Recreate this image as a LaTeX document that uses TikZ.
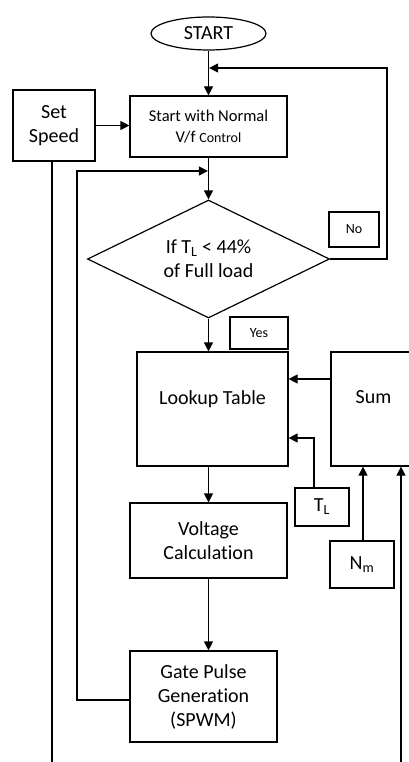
\documentclass[tikz,border=0pt]{standalone}
\usepackage{fontspec}
\setmainfont{Carlito}[RawFeature={-liga}]
\usetikzlibrary{shapes.geometric,arrows.meta}
\begin{document}
\begin{tikzpicture}[x=1pt,y=-1pt,
  box/.style={draw,line width=1.2pt,rectangle,inner sep=0pt,align=center,font=\fontsize{20}{24}\selectfont},
  small/.style={font=\fontsize{14}{17}\selectfont},
  conn/.style={line width=1.2pt},
  arr/.style={conn,-{Triangle[length=9pt,width=9pt]}},
]
\path[use as bounding box] (0,0) rectangle (409,762);
\clip (0,0) rectangle (409,762);
\fill[white] (0,0) rectangle (409,762);

\node[box,ellipse,minimum width=115pt,minimum height=33pt] (start) at (208.5,33.5) {START};
\node[box,font=\fontsize{16.5}{21}\selectfont,minimum width=157pt,minimum height=61pt] (vf) at (208.5,126.5) {Start with Normal\\V/f {\fontsize{14}{17}\selectfont Control}};
\node[box,minimum width=82pt,minimum height=71pt] (speed) at (54,125.5) {Set\\Speed};
\node[box,diamond,aspect=2.05,minimum width=242pt,minimum height=118pt] (dec) at (208.5,259) {If T\textsubscript{L} < 44\%\\of Full load};
\node[box,small,minimum width=50pt,minimum height=35pt] (no) at (354,229.5) {No};
\node[box,small,minimum width=58pt,minimum height=32pt] (yes) at (259,333) {Yes};
\node[box,minimum width=151pt,minimum height=114pt] (lut) at (212.5,409) {Lookup Table\\[-8pt]\strut};
\node[box,minimum width=85pt,minimum height=114pt] (sum) at (373.5,409) {Sum\\[-8pt]\strut};
\node[box,minimum width=54pt,minimum height=38pt] (tl) at (322,507) {T\textsubscript{L}};
\node[box,minimum width=64pt,minimum height=47pt] (nm) at (362,564.5) {N\textsubscript{m}};
\node[box,minimum width=157pt,minimum height=75pt] (volt) at (208.5,540.5) {Voltage\\Calculation};
\node[box,minimum width=147pt,minimum height=91pt] (gate) at (203.5,696.5) {Gate Pulse\\Generation\\(SPWM)};

\coordinate (noc) at (387,68);
\coordinate (sbot) at (52,775);
\coordinate (fbc) at (77,171);
\coordinate (sumin) at (331,379);
\coordinate (tlc) at (314,438);
\coordinate (nmc) at (363,0);
\coordinate (rc) at (401,775);

\draw[arr] (start.south) -- (vf.north);
\draw[arr] (dec.east) -| (noc) -- ([xshift=0.6pt]noc -| start.south);
\draw[arr] (speed.east) -- (speed.east -| vf.west);
\draw[conn] (speed.south -| sbot) -- (sbot);
\draw[arr] (vf.south) -- (vf.south |- dec.north);
\draw[arr] ([yshift=-3.5pt]gate.west) -| (fbc) -- ([xshift=-0.6pt]fbc -| vf.south);
\draw[arr] (dec.south) -- (dec.south |- lut.north);
\draw[arr] (sumin -| sum.west) -- (sumin -| lut.east);
\draw[arr] (tl.north -| tlc) -- (tlc) -- (tlc -| lut.east);
\draw[arr] (nm.north -| nmc) -- (sum.south -| nmc);
\draw[arr] (rc) -- (sum.south -| rc);
\draw[arr] (lut.south -| vf.south) -- (volt.north);
\draw[arr] (volt.south) -- (volt.south |- gate.north);
\end{tikzpicture}
\end{document}
